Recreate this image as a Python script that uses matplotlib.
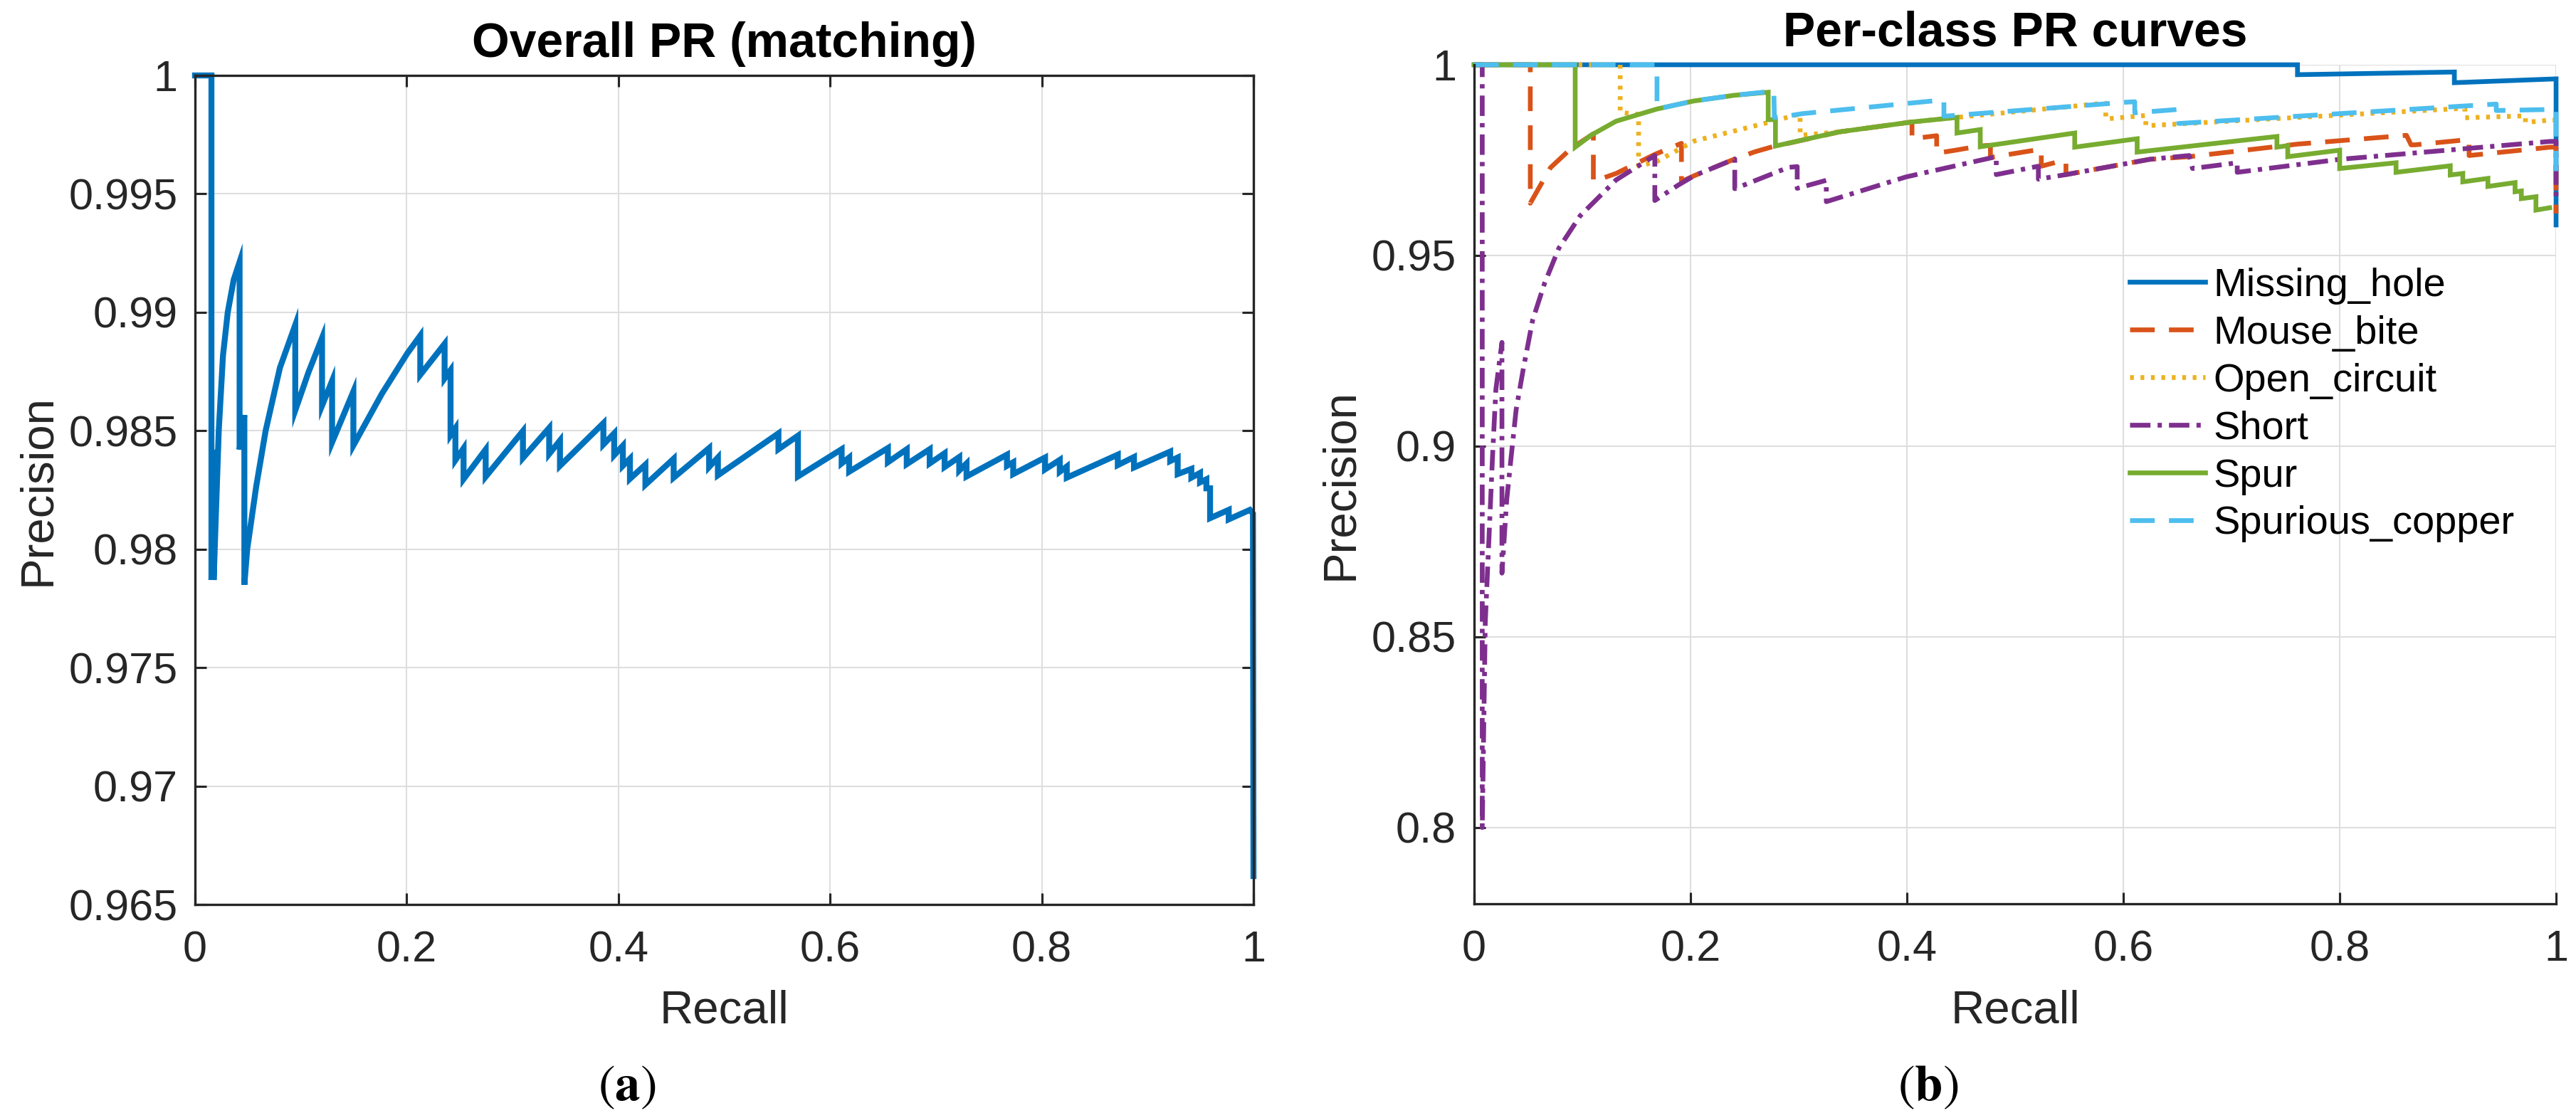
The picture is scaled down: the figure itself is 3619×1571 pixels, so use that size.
import matplotlib
matplotlib.use("Agg")
import matplotlib.pyplot as plt

plt.rcParams['font.family'] = ['Liberation Sans', 'DejaVu Sans']
plt.rcParams['mathtext.fontset'] = 'stix'

# ---------------- data: overall PR curve (a) ----------------
overall_recall = [
    0.0, 0.0155, 0.0155, 0.0172, 0.0176, 0.0224, 0.0264, 0.0309, 0.0365, 0.0421,
    0.0421, 0.0466, 0.0466, 0.0493, 0.0578, 0.0667, 0.0802, 0.0947,
    0.0947, 0.1072, 0.1200, 0.1200, 0.1295, 0.1295, 0.1496, 0.1496,
    0.1765, 0.2006, 0.2128, 0.2128, 0.2358, 0.2358, 0.2414, 0.2414, 0.2460, 0.2460,
    0.2537, 0.2537, 0.2746, 0.2746, 0.3098, 0.3098, 0.3346, 0.3346, 0.3448, 0.3448,
    0.3858, 0.3858, 0.3960, 0.3960, 0.4042, 0.4042, 0.4109, 0.4109, 0.4255, 0.4255,
    0.4522, 0.4522, 0.4857, 0.4857, 0.4940, 0.4940, 0.5512, 0.5512, 0.5696, 0.5696,
    0.6109, 0.6109, 0.6180, 0.6180, 0.6546, 0.6546, 0.6724, 0.6724, 0.6941, 0.6941,
    0.7082, 0.7082, 0.7220, 0.7220, 0.7289, 0.7289, 0.7671, 0.7671, 0.7730, 0.7730,
    0.8031, 0.8031, 0.8170, 0.8170, 0.8236, 0.8236, 0.8718, 0.8718, 0.8871, 0.8871,
    0.9213, 0.9213, 0.9284, 0.9284, 0.9413, 0.9413, 0.9495, 0.9495, 0.9555, 0.9555,
    0.9590, 0.9590, 0.9766, 0.9766, 0.9966, 0.9995, 1.0]
overall_precision = [
    1.0, 1.0, 0.9787, 0.9842, 0.9787, 0.9850, 0.98817, 0.9900, 0.99137, 0.99213,
    0.98421, 0.98566, 0.9785, 0.9800, 0.98265, 0.9850, 0.98766, 0.98947,
    0.98586, 0.98747, 0.98892, 0.98606, 0.98711, 0.98451, 0.98666, 0.98438,
    0.98656, 0.98827, 0.98902, 0.98736, 0.98867, 0.98721, 0.98756, 0.98481, 0.98511, 0.98376,
    0.98426, 0.98296, 0.98421, 0.98306, 0.98499, 0.98385, 0.98512, 0.98402, 0.98459, 0.98352,
    0.98532, 0.98442, 0.98489, 0.98397, 0.98437, 0.98352, 0.98382, 0.98297, 0.98357, 0.98272,
    0.98382, 0.98302, 0.98427, 0.98347, 0.98387, 0.98312, 0.98489, 0.98422, 0.98479, 0.98307,
    0.98422, 0.98362, 0.98387, 0.98327, 0.98427, 0.98367, 0.98422, 0.98359, 0.98422, 0.98362,
    0.98405, 0.98347, 0.98389, 0.98332, 0.98362, 0.98307, 0.98399, 0.98352, 0.98367, 0.98317,
    0.98387, 0.98337, 0.98377, 0.98327, 0.98349, 0.98302, 0.98399, 0.98355, 0.98389, 0.98345,
    0.98412, 0.98372, 0.98387, 0.98317, 0.98339, 0.98302, 0.98322, 0.98282, 0.98295, 0.98257,
    0.98257, 0.98131, 0.98166, 0.98126, 0.98166, 0.98150, 0.9662]

# ---------------- data: per-class PR curves (b) ----------------
class_names = ['Missing_hole', 'Mouse_bite', 'Open_circuit', 'Short', 'Spur', 'Spurious_copper']

missing_hole_recall = [0.0, 0.761, 0.761, 0.906, 0.906, 1.0, 1.0]
missing_hole_precision = [1.0, 1.0, 0.9974, 0.9981, 0.9953, 0.9963, 0.958]

mouse_bite_recall = [0.0, 0.0519, 0.0519, 0.0705, 0.0894, 0.1102, 0.1102, 0.1312, 0.1670, 0.1916,
                     0.1916, 0.2033, 0.2409, 0.2597, 0.2745, 0.3375, 0.4047, 0.4047, 0.4275, 0.4275,
                     0.4449, 0.4677, 0.4772, 0.4772, 0.5182, 0.5242, 0.5242, 0.5416, 0.5470, 0.5470,
                     0.6243, 0.6610, 0.7613, 0.8617, 0.8660, 0.8694, 0.9196, 0.9196, 0.9948, 1.0, 1.0]
mouse_bite_precision = [1.0, 1.0, 0.9637, 0.9730, 0.9780, 0.9819, 0.9694, 0.9715, 0.9765, 0.9794,
                        0.9694, 0.9709, 0.9753, 0.9772, 0.9784, 0.9824, 0.9850, 0.9806, 0.9814, 0.9768,
                        0.9776, 0.9787, 0.9789, 0.9757, 0.9776, 0.9778, 0.9734, 0.9747, 0.9748, 0.9712,
                        0.9752, 0.9759, 0.9792, 0.9815, 0.9790, 0.9790, 0.9804, 0.9762, 0.9784, 0.9784, 0.961]

open_circuit_recall = [0.0, 0.135, 0.135, 0.152, 0.152, 0.168, 0.2033, 0.2709, 0.3013, 0.3013,
                       0.3375, 0.4047, 0.4463, 0.5819, 0.5838, 0.5838, 0.6208, 0.6208, 0.9157, 0.9157,
                       0.9717, 0.9717, 0.9952, 1.0]
open_circuit_precision = [1.0, 1.0, 0.9875, 0.9870, 0.9735, 0.9745, 0.9800, 0.9848, 0.9871, 0.9815,
                          0.9824, 0.9850, 0.9862, 0.9899, 0.9899, 0.9858, 0.9867, 0.9840, 0.9886, 0.9861,
                          0.9866, 0.9849, 0.9855, 0.9855]

short_recall = [0.0, 0.0075, 0.0075, 0.0103, 0.0136, 0.0169, 0.0201, 0.0257, 0.0257, 0.0301,
                0.0344, 0.0388, 0.0454, 0.0541, 0.0651, 0.0783, 0.0980, 0.1312, 0.1670, 0.1670,
                0.1878, 0.2033, 0.2409, 0.2409, 0.2906, 0.2986, 0.2986, 0.3255, 0.3255, 0.3993,
                0.4826, 0.4826, 0.5215, 0.5215, 0.5470, 0.6243, 0.6610, 0.6640, 0.7053, 0.7053,
                0.8000, 0.9948, 1.0, 1.0]
short_precision = [1.0, 1.0, 0.800, 0.8538, 0.8752, 0.8967, 0.9149, 0.9272, 0.8667, 0.8859,
                   0.8977, 0.9095, 0.9202, 0.9331, 0.9427, 0.9519, 0.9604, 0.9698, 0.9762, 0.9644,
                   0.9683, 0.9709, 0.9753, 0.9675, 0.9731, 0.9733, 0.9676, 0.9697, 0.9641, 0.9706,
                   0.9759, 0.9712, 0.9734, 0.9700, 0.9712, 0.9752, 0.9762, 0.9728, 0.9743, 0.9718,
                   0.9752, 0.9799, 0.9799, 0.9647]

spur_recall = [0.0, 0.0934, 0.0934, 0.1085, 0.1312, 0.1690, 0.2029, 0.2407, 0.2718, 0.2718,
               0.2785, 0.2785, 0.3375, 0.4047, 0.4463, 0.4463, 0.4678, 0.4678, 0.5551, 0.5551,
               0.6128, 0.6128, 0.7420, 0.7420, 0.7520, 0.7520, 0.8000, 0.8000, 0.8521, 0.8521,
               0.9022, 0.9022, 0.9138, 0.9138, 0.9370, 0.9370, 0.9621, 0.9621, 0.9679, 0.9679,
               0.9814, 0.9814, 0.9940]
spur_precision = [1.0, 1.0, 0.9784, 0.9816, 0.9852, 0.9884, 0.9905, 0.9920, 0.9928, 0.9856,
                  0.9856, 0.9787, 0.9824, 0.9850, 0.9862, 0.9821, 0.9830, 0.9785, 0.9821, 0.9784,
                  0.9806, 0.9771, 0.9812, 0.9784, 0.9788, 0.9759, 0.9776, 0.9728, 0.9743, 0.9718,
                  0.9735, 0.9711, 0.9715, 0.9693, 0.9702, 0.9681, 0.9691, 0.9667, 0.9669, 0.9649,
                  0.9654, 0.9619, 0.9625]

spurious_copper_recall = [0.0, 0.169, 0.169, 0.2029, 0.2407, 0.2770, 0.2775, 0.2811, 0.3039, 0.4342,
                          0.4342, 0.6035, 0.6106, 0.6106, 0.6512, 0.6512, 0.9447, 0.9447, 0.9987, 1.0, 1.0]
spurious_copper_precision = [1.0, 1.0, 0.9884, 0.9905, 0.9920, 0.9931, 0.9862, 0.9862, 0.9872, 0.9908,
                             0.9865, 0.9902, 0.9903, 0.9874, 0.9883, 0.9846, 0.9897, 0.9880, 0.9883, 0.9883, 0.9721]

x_ticks = [0, 0.2, 0.4, 0.6, 0.8, 1.0]
x_ticklabels = ['0', '0.2', '0.4', '0.6', '0.8', '1']
a_yticks = [0.965, 0.97, 0.975, 0.98, 0.985, 0.99, 0.995, 1.0]
a_yticklabels = ['0.965', '0.97', '0.975', '0.98', '0.985', '0.99', '0.995', '1']
b_yticks = [0.8, 0.85, 0.9, 0.95, 1.0]
b_yticklabels = ['0.8', '0.85', '0.9', '0.95', '1']

# ---------------- styling ----------------
W, H = 3619, 1571
DPI = 300
PX_PER_PT = DPI / 72.0
fig = plt.figure(figsize=(W / DPI, H / DPI), dpi=DPI)

AX_COLOR = '#262626'
GRID_COLOR = '#dedede'
TICK_FS = 14.8
LABEL_FS = 15.9
TITLE_FS = 16.2
LEGEND_FS = 13.4


def px_rect(left, top, right, bottom):
    return [left / W, 1 - bottom / H, (right - left) / W, (bottom - top) / H]


def style_axes(ax, box):
    for side in ['left', 'bottom', 'top', 'right']:
        ax.spines[side].set_color(AX_COLOR)
        ax.spines[side].set_linewidth(0.8)
    if not box:
        ax.spines['top'].set_visible(False)
        ax.spines['right'].set_visible(False)
    ax.tick_params(direction='in', length=3.9, width=0.75, colors=AX_COLOR,
                   labelsize=TICK_FS, top=box, right=box)
    ax.tick_params(axis='x', pad=8.7)
    ax.tick_params(axis='y', pad=5.8)
    ax.grid(True, color=GRID_COLOR, linewidth=0.5)
    ax.set_axisbelow(True)


# ---------------- (a) ----------------
axA = fig.add_axes(px_rect(274, 106, 1761, 1271))
style_axes(axA, box=True)
axA.plot(overall_recall, overall_precision, color='#0072BD', linewidth=2.0,
         clip_on=False, solid_joinstyle='miter')
axA.set_xlim(0, 1)
axA.set_ylim(0.965, 1.0)
axA.set_xticks(x_ticks)
axA.set_xticklabels(x_ticklabels)
axA.set_yticks(a_yticks)
axA.set_yticklabels(a_yticklabels)
axA.set_title('Overall PR (matching)', fontsize=TITLE_FS, fontweight='bold', pad=6.3)
axA.set_xlabel('Recall', fontsize=LABEL_FS, color=AX_COLOR)
axA.set_ylabel('Precision', fontsize=LABEL_FS, color=AX_COLOR)
axA.xaxis.set_label_coords(0.5, -(1437 - 1271) / 1165)
axA.xaxis.label.set_va('baseline')
axA.yaxis.set_label_coords((83 - 274) / 1487, 0.5)

# ---------------- (b) ----------------
axB = fig.add_axes(px_rect(2071, 91, 3591, 1270))
style_axes(axB, box=False)

series = [
    (missing_hole_recall, missing_hole_precision, '#0072BD', '-'),
    (mouse_bite_recall, mouse_bite_precision, '#D95319', (0, (5.2, 3.0))),
    (open_circuit_recall, open_circuit_precision, '#EDB120', (0, (0.8, 1.4))),
    (short_recall, short_precision, '#7E2F8E', (0, (4.3, 1.5, 0.9, 1.5))),
    (spur_recall, spur_precision, '#77AC30', '-'),
    (spurious_copper_recall, spurious_copper_precision, '#4DBEEE', (0, (5.2, 3.0))),
]
for name, (rx, py, col, ls) in zip(class_names, series):
    axB.plot(rx, py, color=col, linestyle=ls, linewidth=1.6, label=name,
             clip_on=False, solid_joinstyle='miter')

axB.set_xlim(0, 1)
axB.set_ylim(0.78, 1.0)
axB.set_xticks(x_ticks)
axB.set_xticklabels(x_ticklabels)
axB.set_yticks(b_yticks)
axB.set_yticklabels(b_yticklabels)
axB.tick_params(axis='y', pad=6.0)
axB.set_title('Per-class PR curves', fontsize=TITLE_FS, fontweight='bold', pad=6.3)
axB.set_xlabel('Recall', fontsize=LABEL_FS, color=AX_COLOR)
axB.set_ylabel('Precision', fontsize=LABEL_FS, color=AX_COLOR)
axB.xaxis.set_label_coords(0.5, -(1437 - 1270) / 1179)
axB.xaxis.label.set_va('baseline')
axB.yaxis.set_label_coords((1913 - 2071) / 1520, 0.5)

# ---------------- captions ----------------
fig.text(881 / W, 1 - 1528 / H, r'$(\mathbf{a})$', fontsize=17, ha='center', va='center')
fig.text(2709 / W, 1 - 1528 / H, r'$(\mathbf{b})$', fontsize=17, ha='center', va='center')

# ---------------- fit font sizes to the measured reference text widths ----------------
fig.canvas.draw()
renderer = fig.canvas.get_renderer()


def fitted(text_obj, target_px):
    w = text_obj.get_window_extent(renderer).width
    return text_obj.get_fontsize() * target_px / w


tick_fs = fitted(axA.get_yticklabels()[4], 152.7)      # "0.985"
label_fs = fitted(axA.xaxis.label, 182.0)              # "Recall"
title_fs = fitted(axA.title, 710.0)                    # "Overall PR (matching)"
for ax in (axA, axB):
    ax.tick_params(labelsize=tick_fs)
    ax.xaxis.label.set_fontsize(label_fs)
    ax.yaxis.label.set_fontsize(label_fs)
    ax.title.set_fontsize(title_fs)

# legend: measure a probe text at the nominal size, then scale
probe = fig.text(0, 0, 'Missing_hole', fontsize=LEGEND_FS)
fig.canvas.draw()
leg_fs = fitted(probe, 327.0)
probe.set_fontsize(leg_fs)
fig.canvas.draw()
bb = probe.get_window_extent(renderer)
row_h = bb.height
_, _, descent = probe._get_layout(renderer)
probe.remove()

fs_px = leg_fs * PX_PER_PT
row_pitch = 67.0
first_baseline = 415.5
leg_top = first_baseline - (row_h - descent)
leg = axB.legend(loc='upper left', bbox_to_anchor=(2992 / W, 1 - leg_top / H),
                 bbox_transform=fig.transFigure, frameon=False, fontsize=leg_fs,
                 handlelength=105.6 / fs_px, handletextpad=12.0 / fs_px,
                 labelspacing=max(0.0, (row_pitch - row_h) / fs_px),
                 borderpad=0, borderaxespad=0)

fig.savefig('out.png', dpi=DPI)
